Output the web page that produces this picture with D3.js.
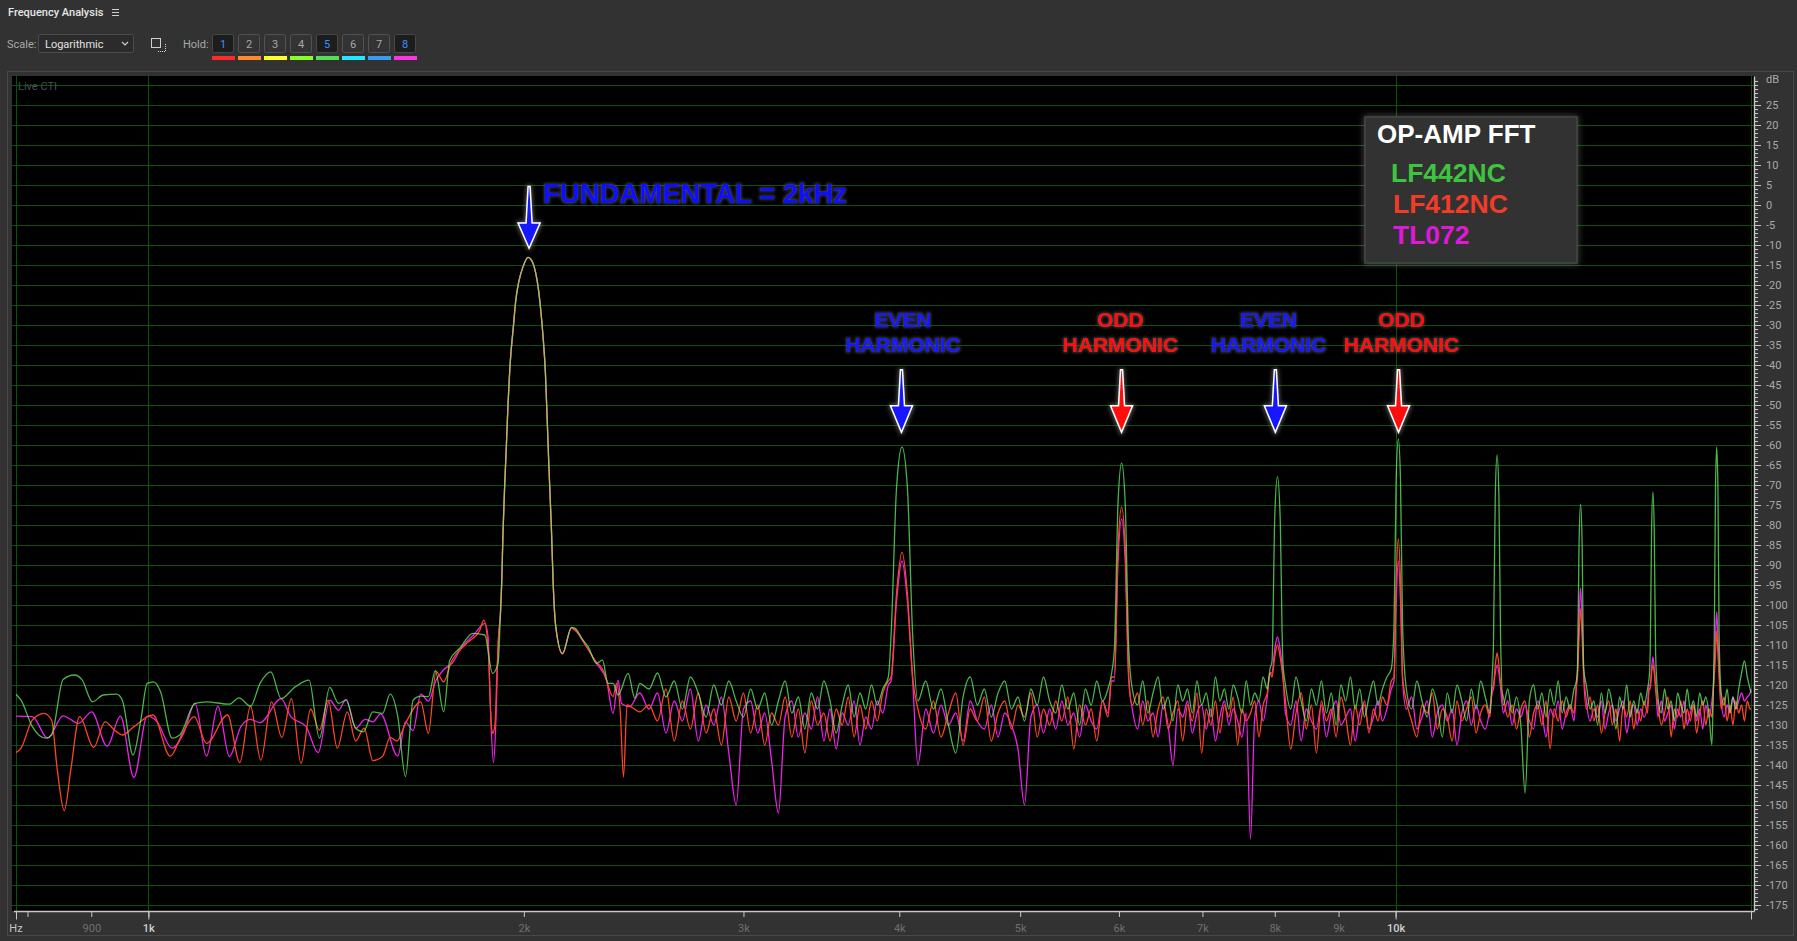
<!DOCTYPE html>
<html><head><meta charset="utf-8">
<script src="https://cdn.jsdelivr.net/npm/d3@7/dist/d3.min.js"></script>
<style>
html,body{margin:0;padding:0;background:#323232;overflow:hidden;}
svg{display:block;}
</style></head><body>
<svg id="c" width="1797" height="941"></svg>
<script>
// ---------------- DATA ----------------
const seriesNames = ["LF442NC", "LF412NC", "TL072"];
const seriesColors = ["#6cff6c", "#ff4424", "#f020f0"];

// main lobe of the 2 kHz fundamental (identical for all three op-amps)
const fundamentalLobe = [[1915.6,-102.0],[1920.2,-93.8],[1924.8,-81.3],[1930.9,-69.6],[1936.9,-59.6],[1942.6,-49.6],[1948.7,-41.3],[1954.9,-35.4],[1960.6,-31.3],[1970.5,-23.8],[1981.4,-19.2],[1997.2,-15.4],[2015.7,-13.1],[2034.4,-14.6],[2044.6,-17.1],[2053.3,-20.4],[2063.5,-26.3],[2072.3,-32.9],[2081.4,-42.1],[2087.7,-52.9],[2095.3,-66.3],[2104.7,-81.3],[2110.9,-93.8],[2121.5,-105.4]];

// low band (Hz, dB) before / after the fundamental lobe
const lf442ncLowA = [[783.2,-122.3],[790.5,-123.8],[807.1,-130.4],[827.7,-133.3],[836.4,-132.5],[854.3,-118.6],[872.6,-117.5],[885.1,-118.8],[901.9,-124.2],[920.0,-122.5],[943.0,-122.3],[953.1,-123.8],[972.1,-137.5],[985.9,-129.0],[997.8,-119.6],[1009.8,-119.2],[1022.8,-121.7],[1044.7,-133.3],[1059.7,-132.5],[1090.0,-124.6],[1113.4,-124.2],[1161.4,-124.8],[1182.1,-123.2],[1207.5,-125.3],[1228.9,-119.6],[1253.6,-116.7],[1277.7,-123.4],[1309.7,-120.6],[1345.3,-118.8],[1371.3,-133.3],[1397.6,-120.6],[1420.5,-124.6],[1440.6,-123.8],[1466.3,-130.8],[1487.3,-131.7],[1513.6,-126.7],[1540.7,-127.1],[1562.7,-122.3],[1584.8,-127.9],[1607.5,-142.9],[1630.2,-123.8],[1653.5,-122.8],[1676.9,-122.9],[1698.4,-116.4],[1724.9,-126.7],[1744.4,-113.8],[1776.9,-110.8],[1821.1,-107.1],[1860.8,-107.5],[1887.5,-117.1],[1907.1,-114.6]];
const lf442ncLowB = [[2147.9,-112.1],[2183.9,-105.6],[2197.3,-105.8],[2231.2,-108.8],[2252.0,-110.4],[2287.1,-114.6],[2312.6,-113.8],[2336.7,-119.6],[2358.4,-119.6],[2380.2,-122.5],[2424.6,-117.1],[2454.8,-123.3],[2477.5,-119.6]];

const lf412ncLowA = [[783.2,-136.9],[790.5,-135.8],[807.1,-128.8],[824.6,-127.1],[836.4,-128.8],[845.3,-141.3],[856.2,-151.4],[866.5,-141.3],[880.7,-127.9],[903.9,-135.6],[923.2,-129.2],[939.7,-131.3],[953.1,-132.5],[973.6,-130.4],[1008.5,-127.5],[1041.1,-137.8],[1063.4,-132.5],[1088.4,-127.9],[1113.4,-134.6],[1157.3,-127.5],[1183.9,-139.4],[1207.5,-125.3],[1230.7,-138.8],[1255.3,-124.2],[1279.4,-133.1],[1302.3,-123.4],[1325.5,-139.6],[1349.2,-126.0],[1371.3,-131.3],[1393.7,-123.8],[1417.3,-135.8],[1443.8,-126.7],[1466.3,-134.0],[1489.2,-130.8],[1513.6,-138.9],[1540.7,-137.9],[1562.7,-133.1],[1582.5,-134.0],[1607.5,-129.6],[1653.5,-124.2],[1676.9,-132.1],[1700.9,-116.6],[1724.9,-119.2],[1749.6,-114.2],[1799.7,-109.6],[1843.7,-106.3],[1857.7,-103.8],[1872.2,-110.4],[1884.0,-130.4],[1888.2,-132.1],[1895.6,-130.4],[1904.3,-115.0],[1910.6,-106.3]];
const lf412ncLowB = [[2147.9,-112.2],[2183.9,-105.8],[2245.3,-110.4],[2280.0,-113.8],[2315.2,-116.3],[2358.4,-122.9],[2373.2,-119.6],[2390.0,-127.0],[2404.0,-143.0],[2420.0,-125.0],[2447.0,-125.8],[2477.5,-126.7]];

const tl072LowA = [[783.2,-127.8],[807.1,-127.9],[830.4,-133.3],[854.3,-127.7],[878.9,-129.6],[900.6,-126.7],[926.6,-135.3],[949.8,-127.8],[973.6,-143.1],[997.8,-127.8],[1015.6,-129.1],[1044.7,-135.8],[1067.1,-132.1],[1090.0,-124.6],[1113.4,-137.8],[1137.0,-125.3],[1161.4,-137.9],[1186.3,-130.4],[1207.5,-128.6],[1228.9,-129.4],[1277.7,-123.4],[1300.6,-127.9],[1337.8,-130.4],[1368.3,-136.9],[1397.6,-123.8],[1420.5,-126.3],[1440.6,-123.6],[1466.3,-130.8],[1492.5,-128.6],[1513.6,-129.2],[1535.3,-127.2],[1584.8,-137.8],[1607.5,-129.2],[1630.2,-131.4],[1653.5,-122.3],[1676.9,-124.0],[1700.9,-118.8],[1724.9,-116.2],[1755.7,-114.2],[1776.9,-111.3],[1825.1,-107.3],[1861.8,-104.6],[1872.2,-108.0],[1880.0,-125.0],[1891.0,-139.4],[1900.0,-128.0],[1907.1,-110.0]];
const tl072LowB = [[2147.9,-112.2],[2183.9,-105.8],[2245.3,-110.4],[2287.1,-114.6],[2329.8,-118.8],[2358.4,-127.1],[2380.2,-118.8],[2395.2,-124.6],[2432.2,-125.4],[2477.5,-122.0]];

// high band: shared frequency list (Hz)
const hfFreq = [
2520,2560,2600,2640,2680,2720,2760,2800,2840,2880,2920,2960,3000,3040,3080,3120,3160,3200,3240,3280,3320,3360,3400,3440,3480,3520,3560,3600,3640,3680,3720,3760,3800,3840,3880,3920,
3940,3980,4020,4060,4100,
4140,4200,4260,4320,4380,4440,4500,4560,4620,4680,4740,4800,4860,4920,4980,5040,5100,5160,5220,5280,5340,5400,5460,5520,5580,5640,5700,5760,5820,5880,5920,
5950,5990,6030,6070,6110,
6150,6210,6270,6330,6390,6450,6510,6570,6630,6690,6750,6810,6870,6930,6990,7050,7110,7170,7230,7290,7350,7410,7470,7530,7590,7650,7710,7770,7830,7890,7930,
7960,8000,8040,8080,8120,
8160,8240,8320,8400,8480,8560,8640,8720,8800,8880,8960,9040,9120,9200,9280,9360,9440,9520,9600,9680,9760,9840,9920,
9970,10010,10050,10090,10130,
10200,10300,10400,10500,10600,10700,10800,10900,11000,11100,11200,11300,11400,11500,11600,11700,11800,11900,11950,
11980,12020,12060,12100,12140,
12200,12300,12400,12500,12600,12700,12800,12900,13000,13100,13200,13300,13400,13500,13600,13700,13800,13900,13960,
13990,14030,14070,14110,14150,
14220,14320,14420,14520,14620,14720,14820,14920,15020,15120,15220,15320,15420,15520,15620,15720,15820,15920,15970,
16000,16040,16080,16120,16160,
16230,16330,16430,16530,16630,16730,16830,16930,17030,17130,17230,17330,17430,17530,17630,17730,17830,17930,17980,
18010,18050,18090,18130,18170,
18240,18340,18440,18540,18640,18740,18840,18940,19040,19140,19240,19272];

const lf442ncHigh = [
-121,-117,-123,-119,-126,-118,-122,-128,-120,-125,-119,-124,-128,-121,-126,-122,-130,-124,-119,-127,-123,-131,-122,-126,-119,-124,-132,-125,-120,-128,-122,-126,-120,-125,-121,-118,
-107.5,-70.5,-60.5,-70.5,-107.5,
-124,-119,-126,-121,-130,-137,-123,-118,-125,-121,-128,-122,-119,-126,-123,-129,-121,-125,-118,-124,-127,-120,-126,-122,-130,-121,-125,-119,-124,-121,-117,
-111,-74.5,-64.5,-74.5,-111,
-121,-125,-119,-127,-122,-118,-126,-123,-129,-120,-124,-121,-127,-119,-125,-122,-128,-118,-124,-121,-126,-120,-123,-127,-119,-125,-122,-124,-118,-121,-116,
-114,-78,-67.9,-78,-114,
-120,-126,-118,-124,-129,-121,-125,-119,-127,-122,-130,-120,-124,-118,-126,-121,-128,-123,-119,-125,-121,-118,-116,
-105.5,-68.5,-58.5,-68.5,-105.5,
-121,-126,-119,-124,-128,-121,-125,-133,-122,-127,-120,-124,-129,-121,-126,-119,-123,-127,-118,
-109.5,-72.5,-62.5,-72.5,-109.5,
-125,-121,-127,-123,-130,-147,-124,-120,-126,-122,-128,-121,-125,-119,-127,-123,-126,-121,-119,
-116,-84.8,-74.8,-84.8,-116,
-120,-126,-124,-130,-122,-127,-121,-125,-131,-123,-126,-120,-128,-124,-127,-122,-125,-121,-118,
-112,-81.7,-71.7,-81.7,-112,
-123,-127,-121,-126,-124,-129,-122,-125,-127,-121,-126,-124,-128,-122,-125,-123,-127,-135,-120,
-107.5,-70.5,-60.5,-70.5,-107.5,
-122,-125,-121,-127,-123,-126,-121,-117,-114,-118,-121,-122];

const lf412ncHigh = [
-125,-129,-121,-134,-124,-131,-122,-132,-126,-135,-123,-129,-122,-132,-125,-135,-127,-130,-123,-133,-126,-137,-124,-130,-127,-134,-126,-130,-123,-133,-125,-131,-124,-129,-122,-119,
-118,-97,-86.8,-97,-118,
-126,-131,-124,-133,-127,-122,-135,-126,-129,-123,-134,-127,-124,-131,-125,-128,-122,-133,-126,-130,-124,-129,-123,-136,-125,-130,-126,-134,-124,-128,-118,
-118,-86,-75.5,-86,-118,
-125,-122,-130,-124,-133,-126,-123,-131,-127,-124,-134,-125,-129,-122,-137,-126,-130,-124,-132,-125,-128,-123,-135,-126,-129,-127,-124,-133,-125,-122,-117,
-118,-113,-110,-113,-118,
-124,-136,-127,-122,-131,-125,-137,-124,-129,-126,-133,-123,-128,-135,-125,-130,-124,-132,-126,-129,-123,-125,-119,
-118,-94,-83.4,-94,-118,
-124,-129,-133,-125,-127,-122,-131,-126,-128,-134,-124,-129,-126,-123,-132,-127,-125,-128,-121,
-120,-115,-112,-115,-120,
-123,-128,-125,-131,-126,-124,-133,-127,-125,-130,-124,-136,-126,-129,-124,-128,-125,-127,-120,
-118,-108,-101,-108,-118,
-126,-123,-129,-125,-132,-127,-124,-130,-126,-134,-125,-128,-124,-131,-126,-129,-124,-127,-121,
-121,-117,-115,-117,-121,
-125,-130,-127,-123,-133,-126,-128,-124,-131,-126,-129,-125,-132,-127,-124,-130,-126,-128,-121,
-118,-112,-106.5,-112,-118,
-126,-123,-129,-125,-130,-124,-127,-125,-129,-124,-126,-126];

const tl072High = [
-126,-122,-132,-124,-129,-121,-134,-125,-130,-123,-137,-150,-126,-124,-132,-127,-139,-152,-128,-124,-133,-127,-131,-123,-134,-126,-136,-127,-130,-124,-135,-128,-131,-124,-127,-120,
-119,-99,-89,-99,-119,
-140,-126,-132,-125,-130,-127,-134,-124,-129,-131,-125,-133,-127,-130,-136,-150,-128,-125,-132,-126,-131,-124,-130,-127,-133,-125,-129,-131,-124,-127,-119,
-119,-89,-78.5,-89,-119,
-126,-131,-124,-129,-127,-133,-125,-130,-140,-126,-128,-124,-132,-127,-125,-131,-126,-134,-128,-124,-130,-126,-129,-133,-127,-158.5,-128,-124,-129,-123,-117,
-117,-111,-108,-111,-117,
-127,-130,-124,-134,-126,-129,-131,-125,-133,-127,-124,-130,-128,-126,-134,-127,-125,-131,-128,-124,-129,-126,-121,
-119,-99,-89,-99,-119,
-126,-123,-131,-128,-124,-133,-127,-125,-129,-126,-135,-127,-124,-130,-125,-129,-131,-126,-122,
-121,-117,-115,-117,-121,
-127,-124,-130,-126,-128,-125,-129,-131,-124,-127,-133,-126,-128,-124,-131,-127,-125,-129,-121,
-116,-104,-95.7,-104,-116,
-124,-129,-126,-128,-124,-131,-127,-125,-129,-126,-124,-132,-127,-125,-130,-126,-128,-125,-120,
-120,-116,-113,-116,-120,
-128,-124,-129,-127,-125,-131,-126,-128,-124,-130,-127,-125,-129,-126,-131,-125,-128,-124,-120,
-116,-108,-101.7,-108,-116,
-124,-128,-125,-127,-123,-126,-124,-122,-124,-123,-122,-121];

// axes
const xTickValues = [800, 900, 1000, 2000, 3000, 4000, 5000, 6000, 7000, 8000, 9000, 10000];
const xTickLabels = ["", "900", "1k", "2k", "3k", "4k", "5k", "6k", "7k", "8k", "9k", "10k"];
const xMajorTicks = [1000, 10000];
const yTickValues = [25,20,15,10,5,0,-5,-10,-15,-20,-25,-30,-35,-40,-45,-50,-55,-60,-65,-70,-75,-80,-85,-90,-95,-100,-105,-110,-115,-120,-125,-130,-135,-140,-145,-150,-155,-160,-165,-170,-175];
const freqMin = 783.2, freqMax = 19272;

// annotations
const fundamentalNote = {text: "FUNDAMENTAL = 2kHz", textHz: 2072.3, arrowHz: 2019.5};
const harmonicNotes = [
  {lines: ["EVEN", "HARMONIC"], textHz: 4027, arrowHz: 4016, color: "#1414ff"},
  {lines: ["ODD", "HARMONIC"], textHz: 6016, arrowHz: 6029, color: "#ff1010"},
  {lines: ["EVEN", "HARMONIC"], textHz: 7907, arrowHz: 8009, color: "#1414ff"},
  {lines: ["ODD", "HARMONIC"], textHz: 10110, arrowHz: 10054, color: "#ff1010"}
];
const holdButtons = ["1","2","3","4","5","6","7","8"];
const holdActive = [true,false,false,false,true,false,false,true];
const holdColors = ["#ff2a2a","#ff8a2a","#ffff2a","#88ff22","#55dd55","#22e8ff","#3a9cf0","#ff33e6"];

// ---------------- CHART ----------------
const svg = d3.select("#c");
const defs = svg.append("defs");

function glow(id, color, dil, blur, op) {
  const f = defs.append("filter").attr("id", id).attr("x", "-30%").attr("y", "-60%").attr("width", "160%").attr("height", "220%");
  f.append("feMorphology").attr("in", "SourceAlpha").attr("operator", "dilate").attr("radius", dil).attr("result", "d");
  f.append("feGaussianBlur").attr("in", "d").attr("stdDeviation", blur).attr("result", "b");
  f.append("feFlood").attr("flood-color", color).attr("flood-opacity", op).attr("result", "c");
  f.append("feComposite").attr("in", "c").attr("in2", "b").attr("operator", "in").attr("result", "g");
  const m = f.append("feMerge");
  m.append("feMergeNode").attr("in", "g");
  m.append("feMergeNode").attr("in", "SourceGraphic");
}
glow("textGlow", "#5a5a5a", 0.6, 1.4, 0.6);
glow("arrowGlow", "#8a8a8a", 0.6, 2, 0.6);
glow("boxGlow", "#8a8a8a", 0.5, 3, 0.45);

const P = {left: 12, top: 76, right: 1754, bottom: 911};
const x = d3.scaleLog().domain([freqMin, freqMax]).range([16, 1751]);
const y = d3.scaleLinear().domain([32.25, -176.5]).range([P.top, P.bottom]);

// ---- header / toolbar
const ui = "Roboto, 'Noto Sans', sans-serif";
svg.append("text").attr("x", 8).attr("y", 16).attr("font-family", ui).attr("font-size", 11).attr("font-weight", 500)
  .attr("fill", "#e6e6e6").text("Frequency Analysis");
[10, 13, 16].forEach(v => svg.append("line").attr("x1", 112).attr("x2", 119).attr("y1", v - 0.5).attr("y2", v - 0.5)
  .attr("stroke", "#cfcfcf").attr("stroke-width", 1));
svg.append("text").attr("x", 7).attr("y", 48).attr("font-family", ui).attr("font-size", 11).attr("fill", "#a8a8a8").text("Scale:");
svg.append("rect").attr("x", 38.5).attr("y", 34.5).attr("width", 95).attr("height", 18).attr("rx", 2)
  .attr("fill", "#2b2b2b").attr("stroke", "#4c4c4c");
svg.append("text").attr("x", 45).attr("y", 48).attr("font-family", ui).attr("font-size", 11).attr("fill", "#e2e2e2").text("Logarithmic");
svg.append("path").attr("d", "M122,42 L125,45 L128,42").attr("fill", "none").attr("stroke", "#cfcfcf").attr("stroke-width", 1.2);
svg.append("rect").attr("x", 151.5).attr("y", 38.5).attr("width", 9).attr("height", 9).attr("fill", "none").attr("stroke", "#cfcfcf");
svg.append("path").attr("d", "M158,51.5 H165.5 V43").attr("fill", "none").attr("stroke", "#cfcfcf").attr("stroke-dasharray", "1,1");
svg.append("text").attr("x", 183).attr("y", 48).attr("font-family", ui).attr("font-size", 11).attr("fill", "#a8a8a8").text("Hold:");
holdButtons.forEach((b, i) => {
  const bx = 212 + i * 26;
  svg.append("rect").attr("x", bx + 0.5).attr("y", 34.5).attr("width", 21).attr("height", 18).attr("rx", 2)
    .attr("fill", holdActive[i] ? "#1d1d1d" : "#333333").attr("stroke", holdActive[i] ? "#474747" : "#525252");
  svg.append("text").attr("x", bx + 11).attr("y", 47.5).attr("text-anchor", "middle").attr("font-family", ui).attr("font-size", 11)
    .attr("fill", holdActive[i] ? "#3d8fff" : "#a8a8a8").text(b);
  svg.append("rect").attr("x", bx).attr("y", 56).attr("width", 23).attr("height", 4).attr("fill", holdColors[i]);
});

// ---- panel
svg.append("rect").attr("x", 7.5).attr("y", 71.5).attr("width", 1786).attr("height", 864)
  .attr("fill", "none").attr("stroke", "#484848");
svg.append("rect").attr("x", P.left).attr("y", P.top).attr("width", P.right - P.left).attr("height", P.bottom - P.top).attr("fill", "#000");

// gridlines
const gridColor = "#0b520b";
const gGrid = svg.append("g");
gGrid.selectAll("line.h").data(d3.range(30, -176, -5)).join("line")
  .attr("x1", P.left).attr("x2", P.right).attr("y1", d => Math.round(y(d)) + 0.5).attr("y2", d => Math.round(y(d)) + 0.5)
  .attr("stroke", gridColor).attr("stroke-width", 1);
gGrid.selectAll("line.v").data([freqMin, 1000, 10000, freqMax]).join("line")
  .attr("x1", d => Math.round(x(d)) + 0.5).attr("x2", d => Math.round(x(d)) + 0.5).attr("y1", P.top).attr("y2", P.bottom)
  .attr("stroke", gridColor).attr("stroke-width", 1);

svg.append("text").attr("x", 18).attr("y", 90).attr("font-family", ui).attr("font-size", 11).attr("fill", "#4e4e4e").text("Live CTI");

// ---- series
defs.append("clipPath").attr("id", "plotClip").append("rect")
  .attr("x", P.left).attr("y", P.top).attr("width", P.right - P.left).attr("height", P.bottom - P.top);
const lineGen = d3.line().x(d => x(d[0])).y(d => y(d[1])).curve(d3.curveMonotoneX);
const hf = arr => hfFreq.map((f, i) => [f, arr[i]]);
const seriesData = [
  lf442ncLowA.concat(fundamentalLobe, lf442ncLowB, hf(lf442ncHigh)),
  lf412ncLowA.concat(fundamentalLobe, lf412ncLowB, hf(lf412ncHigh)),
  tl072LowA.concat(fundamentalLobe, tl072LowB, hf(tl072High))
];
const gLines = svg.append("g").attr("clip-path", "url(#plotClip)");
// draw order: TL072, LF412NC, LF442NC (green on top, partly transparent)
[2, 1, 0].forEach(i => {
  gLines.append("path").datum(seriesData[i]).attr("d", lineGen).attr("fill", "none")
    .attr("stroke", seriesColors[i]).attr("stroke-width", 1.3).attr("stroke-linejoin", "round")
    .attr("stroke-opacity", i === 0 ? 0.7 : 1);
});

// ---- axes
const axisColor = "#c8c8c8";
svg.append("line").attr("x1", 14).attr("x2", 1754.5).attr("y1", P.bottom + 0.5).attr("y2", P.bottom + 0.5).attr("stroke", axisColor).attr("stroke-width", 1.4);
const gx = svg.append("g").attr("transform", `translate(0,${P.bottom})`)
  .call(d3.axisBottom(x).tickValues(xTickValues).tickSize(6).tickPadding(7).tickFormat((d, i) => xTickLabels[i]));
gx.select(".domain").remove();
gx.selectAll("line").attr("stroke", axisColor);
gx.selectAll("text").attr("font-family", ui).attr("font-size", 11)
  .attr("fill", d => xMajorTicks.includes(d) ? "#d0d0d0" : "#6f6f6f").attr("font-weight", d => xMajorTicks.includes(d) ? 500 : 400);
const gxMaj = svg.append("g").attr("transform", `translate(0,${P.bottom})`)
  .call(d3.axisBottom(x).tickValues([freqMin].concat(xMajorTicks, [freqMax])).tickSize(8.5).tickFormat(""));
gxMaj.select(".domain").remove();
gxMaj.selectAll("line").attr("stroke", axisColor);
svg.append("text").attr("x", x(freqMin)).attr("y", 932).attr("text-anchor", "middle").attr("font-family", ui)
  .attr("font-size", 11).attr("fill", "#c4c4c4").text("Hz");

const gy = svg.append("g").attr("transform", `translate(${P.right},0)`)
  .call(d3.axisRight(y).tickValues(yTickValues).tickSize(7).tickSizeOuter(0).tickPadding(5).tickFormat(d => d));
gy.select(".domain").attr("stroke", axisColor).attr("stroke-width", 1.4);
gy.selectAll("line").attr("stroke", axisColor);
gy.selectAll("text").attr("font-family", ui).attr("font-size", 11).attr("fill", "#a9a9a9");
const gyMin = svg.append("g").attr("transform", `translate(${P.right},0)`)
  .call(d3.axisRight(y).tickValues(d3.range(31, -177, -1)).tickSize(4).tickSizeOuter(0).tickFormat(""));
gyMin.select(".domain").remove();
gyMin.selectAll("line").attr("stroke", axisColor);
svg.append("text").attr("x", 1766).attr("y", 83).attr("font-family", ui).attr("font-size", 11).attr("fill", "#a9a9a9").text("dB");

// ---- annotations
const bold = "'Liberation Sans', Arial, sans-serif";
function arrowPath(cx, yTop, yHead, yTip) {
  return `M${cx - 1},${yTop} L${cx + 1},${yTop} L${cx + 3},${yHead} L${cx + 11},${yHead} L${cx},${yTip} L${cx - 11},${yHead} L${cx - 3},${yHead} Z`;
}
const gAnn = svg.append("g");
gAnn.append("path").attr("d", arrowPath(x(fundamentalNote.arrowHz), y(4.6), y(-4.5), y(-10.8)))
  .attr("fill", "#1414ff").attr("stroke", "#fff").attr("stroke-width", 1.5).attr("filter", "url(#arrowGlow)");
gAnn.append("text").attr("x", x(fundamentalNote.textHz)).attr("y", y(0.4)).attr("font-family", bold).attr("font-weight", "bold")
  .attr("font-size", 27.5).attr("fill", "#1010ff").attr("filter", "url(#textGlow)").text(fundamentalNote.text);

harmonicNotes.forEach(n => {
  const tx = x(n.textHz);
  n.lines.forEach((t, k) => {
    gAnn.append("text").attr("x", tx).attr("y", y(k === 0 ? -30.6 : -36.7)).attr("text-anchor", "middle")
      .attr("font-family", bold).attr("font-weight", "bold").attr("font-size", 21).attr("fill", n.color)
      .attr("filter", "url(#textGlow)").text(t);
  });
  gAnn.append("path").attr("d", arrowPath(x(n.arrowHz), y(-41.2), y(-50.2), y(-56.8)))
    .attr("fill", n.color).attr("stroke", "#fff").attr("stroke-width", 1.5).attr("filter", "url(#arrowGlow)");
});

// ---- legend
const gLeg = svg.append("g");
gLeg.append("rect").attr("x", 1365).attr("y", 117).attr("width", 212).attr("height", 146)
  .attr("fill", "#333333").attr("stroke", "#444444").attr("stroke-width", 1.5).attr("filter", "url(#boxGlow)");
gLeg.append("text").attr("x", 1377).attr("y", 143).attr("font-family", bold).attr("font-weight", "bold").attr("font-size", 26)
  .attr("fill", "#ffffff").text("OP-AMP FFT");
const legendColors = ["#3fc43f", "#f23c28", "#e018d8"];
const legendX = [1391, 1393, 1393];
const legendY = [182, 212.5, 244];
seriesNames.forEach((s, i) => {
  gLeg.append("text").attr("x", legendX[i]).attr("y", legendY[i]).attr("font-family", bold).attr("font-weight", "bold")
    .attr("font-size", 26.5).attr("fill", legendColors[i]).text(s);
});
</script>
</body></html>
